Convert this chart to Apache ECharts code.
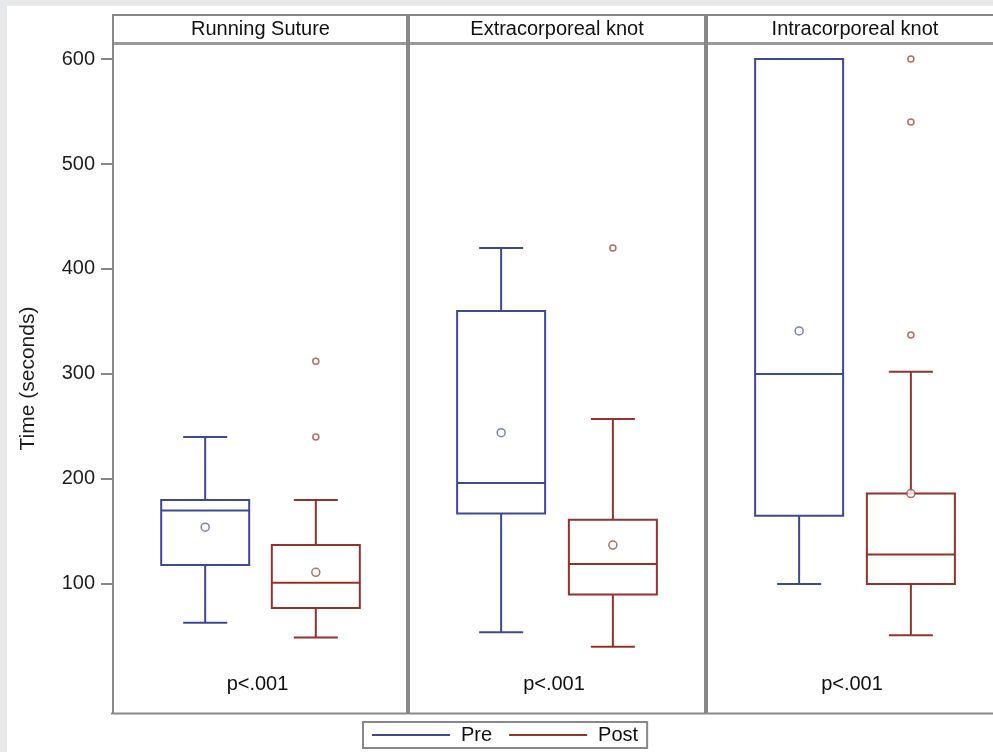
<!DOCTYPE html>
<html>
<head>
<meta charset="utf-8">
<script src="https://cdn.jsdelivr.net/npm/echarts@6/dist/echarts.min.js"></script>
<style>
html,body{margin:0;padding:0;background:#e7e8ea;overflow:hidden;width:993px;height:752px;}
#chart{width:1008px;height:752px;}
</style>
</head>
<body>
<div id="chart"></div>
<script>
// ---- data ----
const panels = ['Running Suture', 'Extracorporeal knot', 'Intracorporeal knot'];
const groups = ['Pre', 'Post'];
const xSlots = ['', '', 'Pre', '', '', 'Post', '', ''];
// [min, q1, median, q3, max]
const preStats = [
  [63, 118, 170, 180, 240],
  [54, 167, 196, 360, 420],
  [100, 165, 300, 600, 600]
];
const postStats = [
  [49, 77, 101, 137, 180],
  [40, 90, 119, 161, 257],
  [51, 100, 128, 186, 302]
];
const preMeans = [154, 244, 341];
const postMeans = [111, 137, 186];
const preOutliers = [[], [], []];
const postOutliers = [[240, 312], [420], [337, 540, 600]];
const pValues = ['p<.001', 'p<.001', 'p<.001'];
const yTicks = [100, 200, 300, 400, 500, 600];

// ---- style ----
const FONT = "'Liberation Sans', Arial, sans-serif";
const BLUE = '#3f4896';
const RED = '#93332a';
const FRAME = '#878787';
const panelBox = [[113, 295], [408, 298], [706, 298]];
const TOP = 44, BOTTOM = 713;
const BOX_W = 88, CAP_W = 44;
const RIGHT_EDGE = 1008;

function makeRender(color) {
  return function (params, api) {
    const x = api.value(0);
    const lo = api.coord([x, api.value(1)]);
    const q1 = api.coord([x, api.value(2)]);
    const md = api.coord([x, api.value(3)]);
    const q3 = api.coord([x, api.value(4)]);
    const hi = api.coord([x, api.value(5)]);
    const cx = q1[0];
    const st = {stroke: color, lineWidth: 2, fill: null};
    const ch = [];
    ch.push({type: 'rect', shape: {x: cx - BOX_W / 2, y: q3[1], width: BOX_W, height: q1[1] - q3[1]}, style: {stroke: color, lineWidth: 2, fill: 'rgba(0,0,0,0)'}});
    ch.push({type: 'line', shape: {x1: cx - BOX_W / 2, y1: md[1], x2: cx + BOX_W / 2, y2: md[1]}, style: st});
    if (hi[1] < q3[1] - 0.5) {
      ch.push({type: 'line', shape: {x1: cx, y1: q3[1], x2: cx, y2: hi[1]}, style: st});
      ch.push({type: 'line', shape: {x1: cx - CAP_W / 2, y1: hi[1], x2: cx + CAP_W / 2, y2: hi[1]}, style: st});
    }
    if (lo[1] > q1[1] + 0.5) {
      ch.push({type: 'line', shape: {x1: cx, y1: q1[1], x2: cx, y2: lo[1]}, style: st});
      ch.push({type: 'line', shape: {x1: cx - CAP_W / 2, y1: lo[1], x2: cx + CAP_W / 2, y2: lo[1]}, style: st});
    }
    return {type: 'group', children: ch};
  };
}

const grids = [], xAxes = [], yAxes = [], series = [], graphics = [];
graphics.push({type: 'rect', z: -100, shape: {x: 7, y: 6, width: RIGHT_EDGE, height: 746}, style: {fill: '#ffffff'}, silent: true});

panels.forEach((name, i) => {
  const [left, width] = panelBox[i];
  grids.push({left: left, width: width, top: TOP, height: BOTTOM - TOP, show: false});
  xAxes.push({type: 'category', gridIndex: i, data: xSlots, show: false, boundaryGap: true});
  yAxes.push({
    type: 'value', gridIndex: i, min: -23, max: 614.3,
    show: i === 0,
    name: i === 0 ? 'Time (seconds)' : '',
    nameLocation: 'middle', nameRotate: 90, nameGap: 74,
    nameTextStyle: {fontSize: 21, color: '#1e1e1e', fontFamily: FONT},
    splitLine: {show: false},
    axisLine: {show: false},
    axisTick: {show: true, length: 12, lineStyle: {color: FRAME, width: 2}, customValues: yTicks},
    axisLabel: {show: true, margin: 18, fontSize: 20, color: '#1e1e1e', fontFamily: FONT, customValues: yTicks}
  });
  const preIdx = xSlots.indexOf('Pre'), postIdx = xSlots.indexOf('Post');
  series.push({
    type: 'custom', name: 'Pre', xAxisIndex: i, yAxisIndex: i,
    itemStyle: {color: BLUE}, renderItem: makeRender(BLUE),
    data: [[preIdx].concat(preStats[i])], silent: true
  });
  series.push({
    type: 'custom', name: 'Post', xAxisIndex: i, yAxisIndex: i,
    itemStyle: {color: RED}, renderItem: makeRender(RED),
    data: [[postIdx].concat(postStats[i])], silent: true
  });
  series.push({
    type: 'scatter', name: 'Pre mean', xAxisIndex: i, yAxisIndex: i,
    symbol: 'circle', symbolSize: 8,
    itemStyle: {color: '#ffffff', borderColor: '#5a62ac', borderWidth: 1.5},
    data: [[preIdx, preMeans[i]]], silent: true, z: 5
  });
  series.push({
    type: 'scatter', name: 'Post mean', xAxisIndex: i, yAxisIndex: i,
    symbol: 'circle', symbolSize: 8,
    itemStyle: {color: '#ffffff', borderColor: '#a04a40', borderWidth: 1.5},
    data: [[postIdx, postMeans[i]]], silent: true, z: 5
  });
  series.push({
    type: 'scatter', name: 'Post outlier', xAxisIndex: i, yAxisIndex: i,
    symbol: 'circle', symbolSize: 6,
    itemStyle: {color: '#ffffff', borderColor: '#a04a40', borderWidth: 1.5},
    data: postOutliers[i].map(v => [postIdx, v]), silent: true, z: 5
  });
  series.push({
    type: 'scatter', name: 'Pre outlier', xAxisIndex: i, yAxisIndex: i,
    symbol: 'circle', symbolSize: 6,
    itemStyle: {color: '#ffffff', borderColor: '#5a62ac', borderWidth: 1.5},
    data: preOutliers[i].map(v => [preIdx, v]), silent: true, z: 5
  });
  graphics.push({type: 'text', x: left + width / 2, y: 29, style: {text: name, font: '20px ' + FONT, fill: '#111', align: 'center', verticalAlign: 'middle'}, silent: true});
  graphics.push({type: 'text', x: left + width / 2 - 3, y: 684, style: {text: pValues[i], font: '20px ' + FONT, fill: '#111', align: 'center', verticalAlign: 'middle'}, silent: true});
});

const L = (x1, y1, x2, y2, w, c) => ({type: 'line', shape: {x1, y1, x2, y2}, style: {stroke: c || FRAME, lineWidth: w}, silent: true, z: 10});
graphics.push(L(113, 15, RIGHT_EDGE, 15, 2));
graphics.push(L(113, 43.5, RIGHT_EDGE, 43.5, 3, '#9a9a9a'));
graphics.push(L(113, 14, 113, 714, 2));
graphics.push(L(111, 713.5, RIGHT_EDGE, 713.5, 2));
graphics.push(L(408, 14, 408, 714, 4));
graphics.push(L(706, 14, 706, 714, 4));

const chart = echarts.init(document.getElementById('chart'), null, {renderer: 'canvas'});
chart.setOption({
  backgroundColor: '#e7e8ea',
  animation: false,
  grid: grids,
  xAxis: xAxes,
  yAxis: yAxes,
  series: series,
  legend: {
    data: groups,
    left: 363, top: 722,
    orient: 'horizontal',
    icon: 'rect', itemWidth: 78, itemHeight: 2, itemGap: 17,
    padding: [3, 9, 3, 9],
    borderColor: FRAME, borderWidth: 2,
    backgroundColor: '#ffffff',
    textStyle: {fontSize: 20, color: '#111', fontFamily: FONT, padding: [0, 0, 0, 6]},
    selectedMode: false
  },
  graphic: {elements: graphics}
});
</script>
</body>
</html>
